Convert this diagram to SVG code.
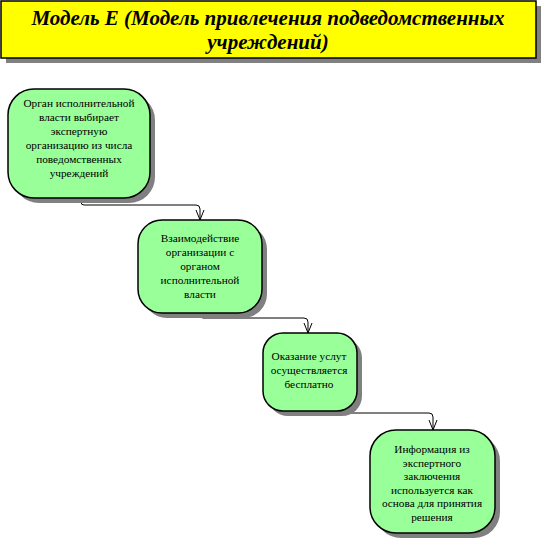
<svg xmlns="http://www.w3.org/2000/svg" width="542" height="545" viewBox="0 0 542 545">
<style>
.shadow{fill:#808080;stroke:none}
.node{fill:#99FF99;stroke:#000;stroke-width:1.5}
.title{fill:#FFFF00;stroke:#000;stroke-width:1.5}
text{font-family:'Liberation Serif','DejaVu Serif',serif;fill:#000;text-anchor:middle}
.t{font-size:11.3px}
.h{font-size:21px;font-weight:bold;font-style:italic}
.conn{fill:none;stroke:#000;stroke-width:1}
</style>
<rect width="542" height="545" fill="#fff"/>
<g id="title">
<rect class="shadow" x="6" y="6" width="535" height="57"/>
<rect class="title" x="1" y="1" width="535" height="57"/>
<text class="h" x="268" y="25">Модель E (Модель привлечения подведомственных</text>
<text class="h" x="268" y="49">учреждений)</text>
</g>
<g id="connectors">
<path class="conn" d="M81,198 L81,202 Q81,205 84,205 L196,205 Q200,205 200,209 L200,220"/>
<path class="conn" d="M196,210 L200,220 L204,210"/>
<path class="conn" d="M200,313 L200,315 Q200,318 203,318 L304,318 Q308,318 308,322 L308,333"/>
<path class="conn" d="M304,323 L308,333 L312,323"/>
<path class="conn" d="M308,411 L308,413 L429,413 Q433,413 433,417 L433,430"/>
<path class="conn" d="M429,420 L433,430 L437,420"/>
</g>
<g id="n1">
<rect class="shadow" x="13" y="94" width="142" height="109" rx="26"/>
<rect class="node" x="8" y="89" width="142" height="109" rx="26"/>
<text class="t" x="79" y="107">Орган исполнительной</text>
<text class="t" x="79" y="121">власти выбирает</text>
<text class="t" x="79" y="135">экспертную</text>
<text class="t" x="79" y="149">организацию из числа</text>
<text class="t" x="79" y="163">поведомственных</text>
<text class="t" x="79" y="177">учреждений</text>
</g>
<g id="n2">
<rect class="shadow" x="143" y="225" width="124" height="93" rx="24"/>
<rect class="node" x="138" y="220" width="124" height="93" rx="24"/>
<text class="t" x="200" y="242">Взаимодействие</text>
<text class="t" x="200" y="256">организации с</text>
<text class="t" x="200" y="270">органом</text>
<text class="t" x="200" y="284">исполнительной</text>
<text class="t" x="200" y="298">власти</text>
</g>
<g id="n3">
<rect class="shadow" x="268" y="338" width="94" height="78" rx="20"/>
<rect class="node" x="263" y="333" width="94" height="78" rx="20"/>
<text class="t" x="309" y="360">Оказание услут</text>
<text class="t" x="309" y="374">осуществляется</text>
<text class="t" x="309" y="388">бесплатно</text>
</g>
<g id="n4">
<rect class="shadow" x="375" y="435" width="125" height="103" rx="26"/>
<rect class="node" x="370" y="430" width="125" height="103" rx="26"/>
<text class="t" x="432" y="453">Информация из</text>
<text class="t" x="432" y="466.5">экспертного</text>
<text class="t" x="432" y="480">заключения</text>
<text class="t" x="432" y="493.5">используется как</text>
<text class="t" x="432" y="507">основа для принятия</text>
<text class="t" x="432" y="520.5">решения</text>
</g>
</svg>
